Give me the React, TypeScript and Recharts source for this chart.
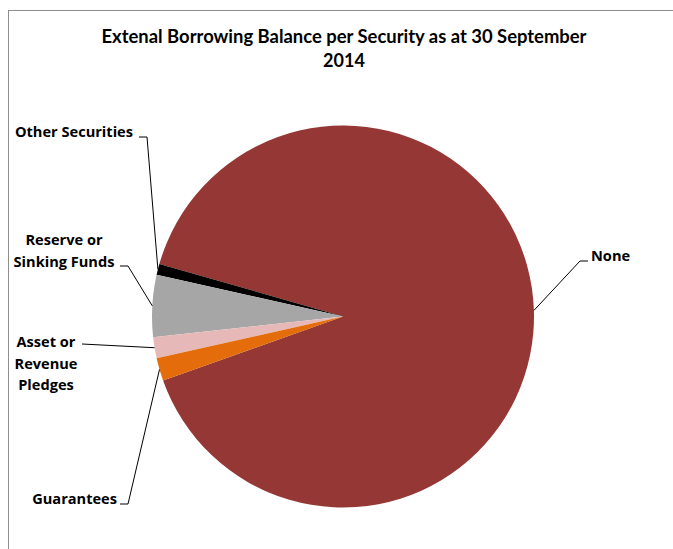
import React from 'react';
import { PieChart, Pie, Cell } from 'recharts';

const categories = ['None', 'Other Securities', 'Reserve or Sinking Funds', 'Asset or Revenue Pledges', 'Guarantees'];
const shares = [90.1, 0.94, 5.22, 1.78, 1.94];
const colors = ['#953735', '#000000', '#A6A6A6', '#E6B9B8', '#E46C0A'];

const data = categories.map((name, i) => ({ name, value: shares[i] }));

const RAD = Math.PI / 180;
const TITLE_FONT = 'Lato, "Open Sans", sans-serif';
const LABEL_FONT = '"Open Sans", Lato, sans-serif';

// where each label text sits and how its leader line bends
const labelLayout: Record<string, { lines: string[]; x: number; y: number; anchor: 'start' | 'middle' | 'end'; knee?: [number, number]; tail?: [number, number] }> = {
  'None': { lines: ['None'], x: 591, y: 261, anchor: 'start', knee: [580, 261], tail: [588, 261] },
  'Other Securities': { lines: ['Other Securities'], x: 133, y: 137, anchor: 'end', knee: [147, 137], tail: [139, 137] },
  'Reserve or Sinking Funds': { lines: ['Reserve or', 'Sinking Funds'], x: 64, y: 245, anchor: 'middle', knee: [128, 266], tail: [120, 266] },
  'Asset or Revenue Pledges': { lines: ['Asset or', 'Revenue', 'Pledges'], x: 46, y: 347, anchor: 'middle', tail: [82, 344] },
  'Guarantees': { lines: ['Guarantees'], x: 117, y: 504, anchor: 'end', knee: [128, 504], tail: [120, 504] },
};

const renderLabel = (props: any) => {
  const { cx, cy, midAngle, outerRadius, name } = props;
  const lay = labelLayout[name];
  if (!lay) return null;
  const ex = cx + outerRadius * Math.cos(-midAngle * RAD);
  const ey = cy + outerRadius * Math.sin(-midAngle * RAD);
  const pts: number[][] = [[ex, ey]];
  if (lay.knee) pts.push(lay.knee);
  if (lay.tail) pts.push(lay.tail);
  return (
    <g>
      <polyline points={pts.map((p) => p.join(',')).join(' ')} fill="none" stroke="#000" strokeWidth={1} />
      <text x={lay.x} y={lay.y} textAnchor={lay.anchor} fontFamily={LABEL_FONT} fontWeight="bold" fontSize={14.6} fill="#000">
        {lay.lines.map((l, i) => (
          <tspan key={i} x={lay.x} dy={i === 0 ? 0 : 21.7}>{l}</tspan>
        ))}
      </text>
    </g>
  );
};

export default function App() {
  return (
    <div style={{ position: 'fixed', left: 0, top: 0, width: 673, height: 549, background: '#fff', overflow: 'hidden' }}>
      <div style={{ position: 'absolute', left: 8, top: 10, width: 700, height: 600, borderTop: '1px solid #8E8E8E', borderLeft: '1px solid #8E8E8E' }} />
      <PieChart width={673} height={549} margin={{ top: 0, right: 0, bottom: 0, left: 0 }} style={{ position: 'absolute', left: 0, top: 0 }}>
        <text x={344} y={43} textAnchor="middle" fontFamily={TITLE_FONT} fontWeight="bold" fontSize={18} fill="#000" textLength={485} lengthAdjust="spacingAndGlyphs">
          Extenal Borrowing Balance per Security as at 30 September
        </text>
        <text x={344} y={66.5} textAnchor="middle" fontFamily={TITLE_FONT} fontWeight="bold" fontSize={18} fill="#000">
          2014
        </text>
        <Pie
          data={data}
          dataKey="value"
          nameKey="name"
          cx={343}
          cy={316.5}
          outerRadius={191}
          startAngle={-160.4}
          endAngle={199.6}
          stroke="none"
          label={renderLabel}
          labelLine={false}
          isAnimationActive={false}
        >
          {data.map((d, i) => (
            <Cell key={d.name} fill={colors[i]} />
          ))}
        </Pie>
      </PieChart>
    </div>
  );
}
